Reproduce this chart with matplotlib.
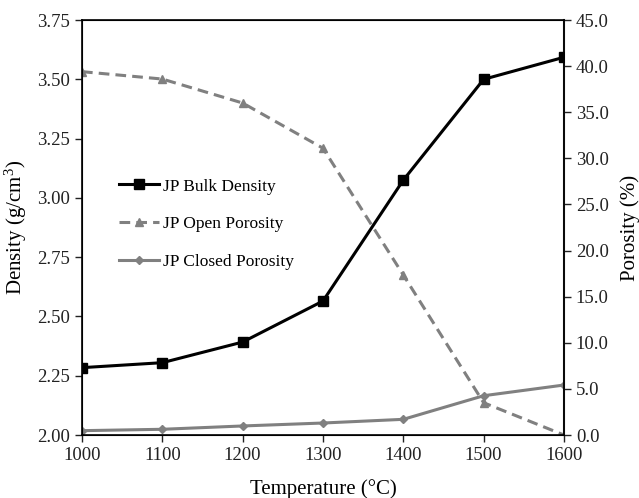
import matplotlib
matplotlib.use("Agg")
import matplotlib.pyplot as plt

# data
temperatura = [1000, 1100, 1200, 1300, 1400, 1500, 1600]
bulk_density = [2.284, 2.305, 2.392, 2.565, 3.075, 3.50, 3.593]
open_porosity = [39.4, 38.6, 36.0, 31.1, 17.35, 3.5, 0.0]
closed_porosity = [0.47, 0.62, 0.98, 1.3, 1.7, 4.26, 5.42]

plt.rcParams["font.family"] = ["Liberation Serif", "DejaVu Serif"]
plt.rcParams["mathtext.fontset"] = "stix"
cinza = "#808080"

fig = plt.figure(figsize=(6.39, 4.98), dpi=100)
ax = fig.add_axes([0.1283, 0.1265, 0.7543, 0.8333])
ax2 = ax.twinx()

l1, = ax.plot(temperatura, bulk_density, color="black", lw=2.2, marker="s",
              markersize=7, label="JP Bulk Density", zorder=5)
l2, = ax2.plot(temperatura, open_porosity, color=cinza, lw=2.2, ls=(0, (3.5, 2)),
               marker="^", markersize=6, label="JP Open Porosity")
l3, = ax2.plot(temperatura, closed_porosity, color=cinza, lw=2.2, marker="D",
               markersize=4.5, label="JP Closed Porosity")
ax.set_zorder(ax2.get_zorder() + 1)
ax.patch.set_visible(False)

ax.set_xlim(1000, 1600)
ax.set_ylim(2.0, 3.75)
ax2.set_ylim(0, 45)
ax.set_xticks(temperatura)
ax.set_yticks([2.0, 2.25, 2.5, 2.75, 3.0, 3.25, 3.5, 3.75])
ax.set_yticklabels(["%.2f" % v for v in ax.get_yticks()])
ax2.set_yticks(range(0, 50, 5))
ax2.set_yticklabels(["%.1f" % v for v in range(0, 50, 5)])

ax.tick_params(direction="out", length=5, width=1, labelsize=13.5, colors="#222222")
ax2.tick_params(direction="out", length=5, width=1, labelsize=13.5, colors="#222222")
for s in ax.spines.values():
    s.set_color("black")
    s.set_linewidth(1.2)
ax2.spines["right"].set_color("#404040")
ax2.spines["right"].set_linewidth(1.5)

ax.set_xlabel("Temperature (°C)", fontsize=15, labelpad=11)
ax.set_ylabel("Density (g/cm$^\\mathregular{3}$)", fontsize=15, labelpad=6)
ax2.set_ylabel("Porosity (%)", fontsize=15, labelpad=8)

ax.legend(handles=[l1, l2, l3], loc="upper left", bbox_to_anchor=(0.045, 0.656),
          frameon=False, fontsize=12.5, handlelength=2.3, labelspacing=1.25,
          handletextpad=0.2)

fig.savefig("out.png", dpi=100)
